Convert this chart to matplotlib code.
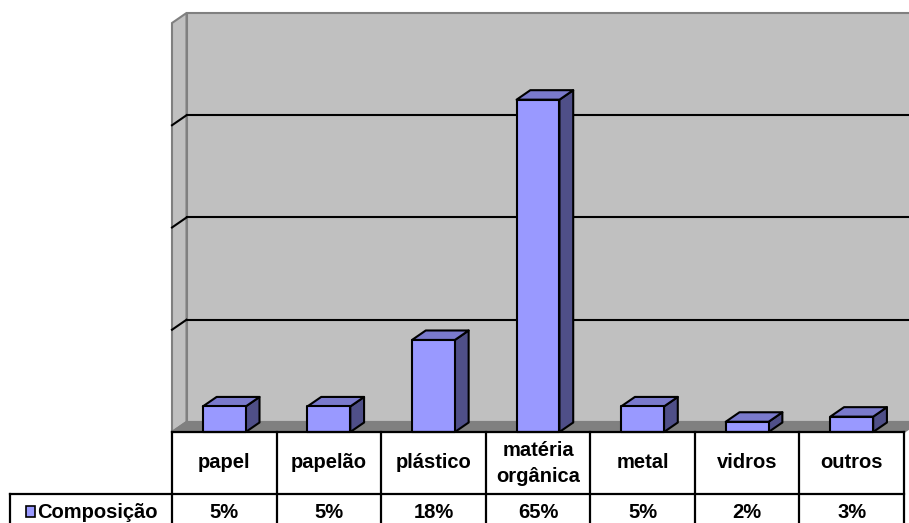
import matplotlib
matplotlib.use("Agg")
import matplotlib.pyplot as plt
from matplotlib.patches import Polygon, Rectangle

# ---- data ----
categories = ["papel", "papelão", "plástico", "matéria\norgânica", "metal", "vidros", "outros"]
values = [0.05, 0.05, 0.18, 0.65, 0.05, 0.02, 0.03]
series_name = "Composição"
y_max = 0.8
grid_values = [0.2, 0.4, 0.6]

# ---- style ----
W, H = 909, 523
FRONT_L, FRONT_R, FRONT_B, FRONT_T = 172, 904, 432, 23   # pixel frame of front plane
DEPTH_PX = (14.5, 10.0)
BAR_W = 0.41
BAR_DEPTH = 0.95
C_FRONT, C_TOP, C_SIDE = "#9999ff", "#7a7acc", "#4f4f88"
C_WALL, C_FLOOR, C_FRAME = "#c0c0c0", "#808080", "#808080"
FONT = dict(family=["Liberation Sans", "DejaVu Sans"], fontweight="bold", fontsize=14.5)

fig = plt.figure(figsize=(W / 100, H / 100), dpi=100)
fig.patch.set_facecolor("white")

n = len(categories)
ax = fig.add_axes([FRONT_L / W, (H - FRONT_B) / H, (FRONT_R - FRONT_L) / W, (FRONT_B - FRONT_T) / H])
ax.set_xlim(0, n)
ax.set_ylim(0, y_max)
ax.axis("off")

px_per_cat = (FRONT_R - FRONT_L) / n
px_per_val = (FRONT_B - FRONT_T) / y_max
dx = DEPTH_PX[0] / px_per_cat
dy = DEPTH_PX[1] / px_per_val

lw = 1.5
# back wall
ax.add_patch(Polygon([(dx, dy), (n + dx, dy), (n + dx, y_max + dy), (dx, y_max + dy)],
                     closed=True, facecolor=C_WALL, edgecolor=C_FRAME, lw=lw, clip_on=False, zorder=1))
# side wall
ax.add_patch(Polygon([(0, 0), (dx, dy), (dx, y_max + dy), (0, y_max)],
                     closed=True, facecolor=C_WALL, edgecolor=C_FRAME, lw=lw, clip_on=False, zorder=1))
# floor
ax.add_patch(Polygon([(0, 0), (n, 0), (n + dx, dy), (dx, dy)],
                     closed=True, facecolor=C_FLOOR, edgecolor=C_FRAME, lw=lw, clip_on=False, zorder=2))
# gridlines
for g in grid_values:
    ax.plot([dx, n + dx], [g + dy, g + dy], color="black", lw=lw, clip_on=False, zorder=3)
    ax.plot([0, dx], [g, g + dy], color="black", lw=lw, clip_on=False, zorder=3)

# bars
bdx, bdy = dx * BAR_DEPTH, dy * BAR_DEPTH
for i, v in enumerate(values):
    x0 = i + 0.5 - BAR_W / 2
    x1 = i + 0.5 + BAR_W / 2
    ax.add_patch(Polygon([(x1, 0), (x1 + bdx, bdy), (x1 + bdx, v + bdy), (x1, v)], closed=True,
                         facecolor=C_SIDE, edgecolor="black", lw=lw, joinstyle="round", clip_on=False, zorder=5))
    ax.add_patch(Polygon([(x0, v), (x1, v), (x1 + bdx, v + bdy), (x0 + bdx, v + bdy)], closed=True,
                         facecolor=C_TOP, edgecolor="black", lw=lw, joinstyle="round", clip_on=False, zorder=5))
    ax.add_patch(Rectangle((x0, 0), BAR_W, v, facecolor=C_FRONT, edgecolor="black", lw=lw,
                           joinstyle="round", clip_on=False, zorder=6))

# ---- data table ----
TAB_H = H - FRONT_B
tab = fig.add_axes([FRONT_L / W, 0, (FRONT_R - FRONT_L) / W, TAB_H / H])
tab.set_xlim(0, n)
tab.set_ylim(TAB_H, 0)
tab.axis("off")

def px2x(px):
    return (px - FRONT_L) / px_per_cat

ROW1 = 62
legend_left = px2x(10)
tlw = 1.6
tab.plot([0, n], [0, 0], color="black", lw=tlw, clip_on=False, zorder=4)
tab.plot([legend_left, n], [ROW1, ROW1], color="black", lw=tlw, clip_on=False)
for i in range(n + 1):
    tab.plot([i, i], [0, TAB_H + 2], color="black", lw=tlw, clip_on=False)
tab.plot([legend_left, legend_left], [ROW1, TAB_H + 2], color="black", lw=tlw, clip_on=False)

VAL_BASE = 85.5
for i, (c, v) in enumerate(zip(categories, values)):
    lines = c.split("\n")
    k = len(lines)
    for j, line in enumerate(lines):
        yb = 36.5 + (j - (k - 1) / 2) * 26
        tab.text(i + 0.5, yb, line, ha="center", va="baseline", **FONT)
    tab.text(i + 0.5, VAL_BASE, f"{round(v * 100)}%", ha="center", va="baseline", **FONT)

# legend key
tab.add_patch(Rectangle((px2x(26), VAL_BASE - 1), 9 / px_per_cat, -10.5, facecolor=C_FRONT,
                        edgecolor="black", lw=1.2, clip_on=False))
tab.text(px2x(37), VAL_BASE, series_name, ha="left", va="baseline", **FONT)

fig.savefig("out.png", dpi=100)
